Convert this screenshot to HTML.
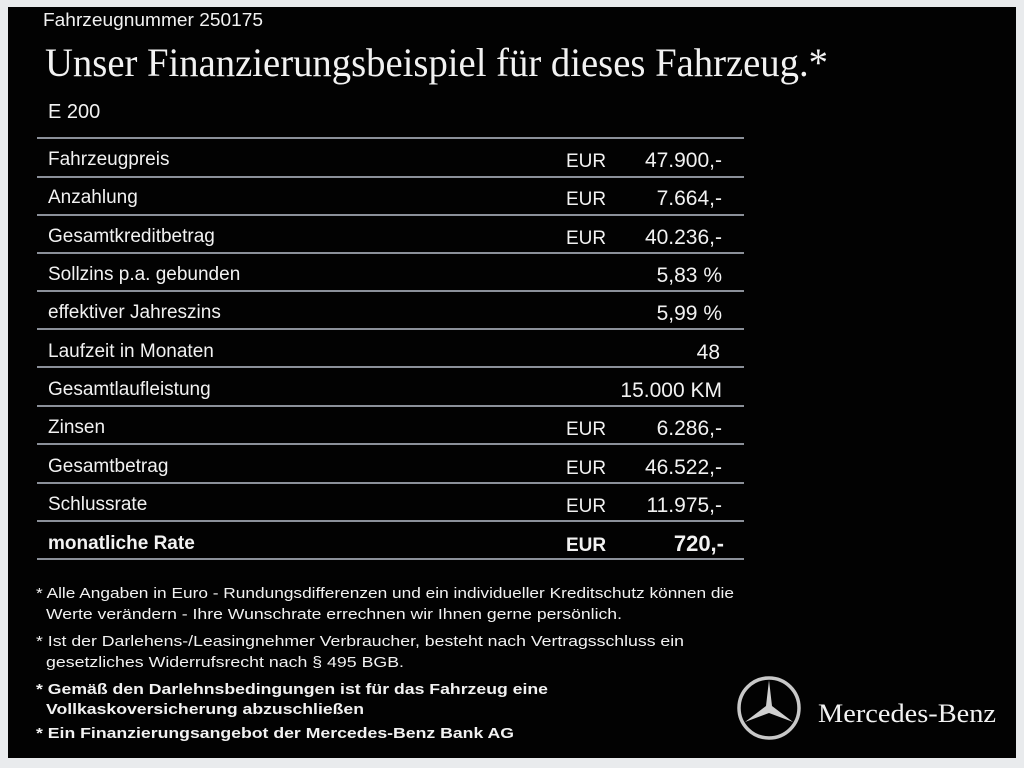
<!DOCTYPE html>
<html><head><meta charset="utf-8"><style>
html,body{margin:0;padding:0;background:#e9ebed;}
svg{display:block}
text{font-family:"Liberation Sans",sans-serif;fill:#f2f2f2}
.s{font-family:"Liberation Serif",serif}
.r{font-size:19px}
.f{font-size:14.5px}
.b{font-weight:bold}
</style></head><body>
<svg width="1024" height="768" viewBox="0 0 1024 768">
<rect x="0" y="0" width="1024" height="768" fill="#e9ebed"/>
<rect x="8" y="7" width="1008" height="751" fill="#020202"/>
<text x="43" y="26" font-size="18" textLength="220" lengthAdjust="spacingAndGlyphs">Fahrzeugnummer 250175</text>
<text class="s" x="45" y="76" font-size="40" textLength="783" lengthAdjust="spacingAndGlyphs">Unser Finanzierungsbeispiel für dieses Fahrzeug.*</text>
<text x="48" y="118" font-size="20">E 200</text>
<g stroke="#8b9099" stroke-width="2">
<line x1="37" y1="138" x2="744" y2="138"/><line x1="37" y1="177" x2="744" y2="177"/>
<line x1="37" y1="215" x2="744" y2="215"/><line x1="37" y1="253" x2="744" y2="253"/>
<line x1="37" y1="291" x2="744" y2="291"/><line x1="37" y1="329" x2="744" y2="329"/>
<line x1="37" y1="367" x2="744" y2="367"/><line x1="37" y1="406" x2="744" y2="406"/>
<line x1="37" y1="444" x2="744" y2="444"/><line x1="37" y1="483" x2="744" y2="483"/>
<line x1="37" y1="521" x2="744" y2="521"/><line x1="37" y1="559" x2="744" y2="559"/>
</g>
<g class="r">
<text x="48" y="165">Fahrzeugpreis</text><text x="566" y="167">EUR</text><text x="722" y="167" text-anchor="end" font-size="21">47.900,-</text>
<text x="48" y="203">Anzahlung</text><text x="566" y="205">EUR</text><text x="722" y="205" text-anchor="end" font-size="21">7.664,-</text>
<text x="48" y="242">Gesamtkreditbetrag</text><text x="566" y="244">EUR</text><text x="722" y="244" text-anchor="end" font-size="21">40.236,-</text>
<text x="48" y="280">Sollzins p.a. gebunden</text><text x="722" y="282" text-anchor="end" font-size="21">5,83 %</text>
<text x="48" y="318">effektiver Jahreszins</text><text x="722" y="320" text-anchor="end" font-size="21">5,99 %</text>
<text x="48" y="357">Laufzeit in Monaten</text><text x="720" y="359" text-anchor="end" font-size="21">48</text>
<text x="48" y="395">Gesamtlaufleistung</text><text x="722" y="397" text-anchor="end" font-size="21">15.000 KM</text>
<text x="48" y="433">Zinsen</text><text x="566" y="435">EUR</text><text x="722" y="435" text-anchor="end" font-size="21">6.286,-</text>
<text x="48" y="472">Gesamtbetrag</text><text x="566" y="474">EUR</text><text x="722" y="474" text-anchor="end" font-size="21">46.522,-</text>
<text x="48" y="510">Schlussrate</text><text x="566" y="512">EUR</text><text x="722" y="512" text-anchor="end" font-size="21">11.975,-</text>
<text class="b" x="48" y="549">monatliche Rate</text><text class="b" x="566" y="551">EUR</text><text class="b" x="724" y="551" text-anchor="end" font-size="22">720,-</text>
</g>
<g class="f">
<text x="36" y="598" textLength="698" lengthAdjust="spacingAndGlyphs">* Alle Angaben in Euro - Rundungsdifferenzen und ein individueller Kreditschutz können die</text>
<text x="46" y="619" textLength="576" lengthAdjust="spacingAndGlyphs">Werte verändern - Ihre Wunschrate errechnen wir Ihnen gerne persönlich.</text>
<text x="36" y="646" textLength="648" lengthAdjust="spacingAndGlyphs">* Ist der Darlehens-/Leasingnehmer Verbraucher, besteht nach Vertragsschluss ein</text>
<text x="46" y="667" textLength="358" lengthAdjust="spacingAndGlyphs">gesetzliches Widerrufsrecht nach § 495 BGB.</text>
<text class="b" x="36" y="694" textLength="512" lengthAdjust="spacingAndGlyphs">* Gemäß den Darlehnsbedingungen ist für das Fahrzeug eine</text>
<text class="b" x="46" y="714" textLength="318" lengthAdjust="spacingAndGlyphs">Vollkaskoversicherung abzuschließen</text>
<text class="b" x="36" y="738" textLength="478" lengthAdjust="spacingAndGlyphs">* Ein Finanzierungsangebot der Mercedes-Benz Bank AG</text>
</g>
<g transform="translate(769,708)">
<circle r="30" fill="none" stroke="#c8c8c8" stroke-width="3.5"/>
<polygon points="0,-28 3,-2 24,14 0,5 -24,14 -3,-2" fill="#d0d0d0"/>
</g>
<text class="s" x="818" y="722" font-size="26" textLength="178" lengthAdjust="spacingAndGlyphs">Mercedes-Benz</text>
</svg>
</body></html>
